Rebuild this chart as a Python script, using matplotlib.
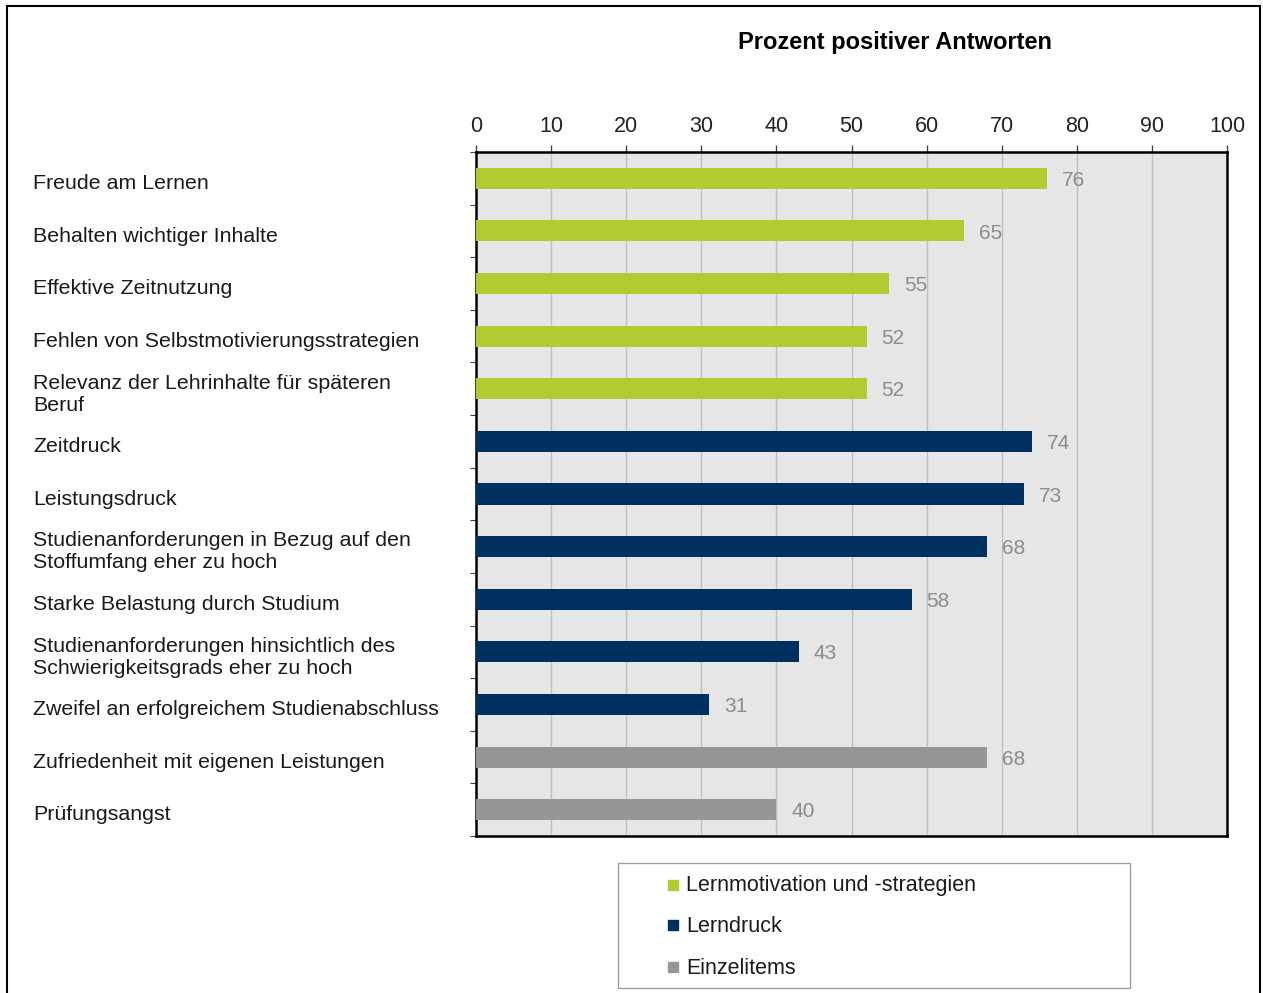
import numpy as np
import matplotlib.pyplot as plt
from matplotlib.patches import Rectangle
from matplotlib.transforms import blended_transform_factory

plt.rcParams['font.family'] = ['Liberation Sans', 'DejaVu Sans']

labels = ["Freude am Lernen",
          "Behalten wichtiger Inhalte",
          "Effektive Zeitnutzung",
          "Fehlen von Selbstmotivierungsstrategien",
          "Relevanz der Lehrinhalte für späteren\nBeruf",
          "Zeitdruck",
          "Leistungsdruck",
          "Studienanforderungen in Bezug auf den\nStoffumfang eher zu hoch",
          "Starke Belastung durch Studium",
          "Studienanforderungen hinsichtlich des\nSchwierigkeitsgrads eher zu hoch",
          "Zweifel an erfolgreichem Studienabschluss",
          "Zufriedenheit mit eigenen Leistungen",
          "Prüfungsangst"]
values = [76, 65, 55, 52, 52, 74, 73, 68, 58, 43, 31, 68, 40]
groups = [0, 0, 0, 0, 0, 1, 1, 1, 1, 1, 1, 2, 2]
group_names = ["Lernmotivation und -strategien", "Lerndruck", "Einzelitems"]
group_colors = ["#b2cb33", "#00305f", "#969696"]

W, H = 1263, 993
fig = plt.figure(figsize=(W / 100, H / 100), dpi=100)

def fx(px):
    return px / W

def fy(py):
    return 1 - py / H

ax = fig.add_axes([fx(476), fy(836), fx(1227) - fx(476), fy(152) - fy(836)])
ax.set_facecolor("#e6e6e6")

n = len(labels)
y = np.arange(n)
cols = [group_colors[g] for g in groups]
ax.barh(y, values, height=0.4, color=cols, zorder=3)
ax.set_xlim(0, 100)
ax.set_ylim(n - 0.5, -0.5)

for yi, v in zip(y, values):
    ax.text(v + 2, yi + 0.04, str(v), va='center', ha='left', fontsize=15,
            color="#8c8c8c", zorder=4)

ax.set_xticks(np.arange(0, 101, 10))
ax.xaxis.tick_top()
ax.tick_params(axis='x', direction='out', length=5, width=1, color="#444444",
               labelsize=15.5, pad=5.5, labelcolor="#222222")
ax.grid(axis='x', color="#c0c0c0", linewidth=1, zorder=1)
ax.set_yticks(np.arange(-0.5, n, 1))
ax.set_yticklabels([])
ax.tick_params(axis='y', direction='out', length=4, width=0.8, color="#444444")

for s in ax.spines.values():
    s.set_color("black")
    s.set_linewidth(1.8)

tr = blended_transform_factory(fig.transFigure, ax.transData)
for yi, lab in zip(y, labels):
    ax.text(fx(33), yi + 0.1, lab, transform=tr, ha='left', va='center',
            fontsize=15.4, color="#1a1a1a", linespacing=1.2)

fig.text(fx(895), fy(42), "Prozent positiver Antworten", ha='center',
         va='center', fontsize=17, fontweight='bold')

# outer frame
fig.patches.append(Rectangle((fx(7), fy(1000)), fx(1260) - fx(7),
                             fy(6) - fy(1000), transform=fig.transFigure,
                             fill=False, edgecolor="black", linewidth=1.5))

# legend box
fig.patches.append(Rectangle((fx(618), fy(988)), fx(1130) - fx(618),
                             fy(863) - fy(988), transform=fig.transFigure,
                             fill=False, edgecolor="#a0a0a0", linewidth=1))
leg_y = [886, 926, 968]
for name, c, ly in zip(group_names, group_colors, leg_y):
    fig.patches.append(Rectangle((fx(668), fy(ly + 4)), fx(10), 10 / H,
                                 transform=fig.transFigure, color=c))
    fig.text(fx(686), fy(ly), name, ha='left', va='center', fontsize=15.5,
             color="#1a1a1a")

fig.savefig("out.png", dpi=100)
